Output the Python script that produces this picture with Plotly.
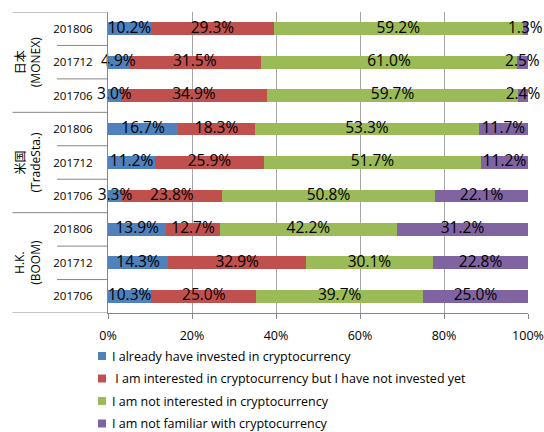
import plotly.graph_objects as go

# Survey rows, top to bottom
groups = ["日本<br>(MONEX)", "米国<br>(TradeSta.)", "H.K.<br>(BOOM)"]
periods = ["201806", "201712", "201706"]

series_names = [
    "I already have invested in cryptocurrency",
    " I am interested in cryptocurrency but I have not invested yet",
    "I am not interested in cryptocurrency",
    "I am not familiar with cryptocurrency",
]
colors = ["#4F81BD", "#C0504D", "#9BBB59", "#8064A2"]

invested = [10.2, 4.9, 3.0, 16.7, 11.2, 3.3, 13.9, 14.3, 10.3]
interested = [29.3, 31.5, 34.9, 18.3, 25.9, 23.8, 12.7, 32.9, 25.0]
not_interested = [59.2, 61.0, 59.7, 53.3, 51.7, 50.8, 42.2, 30.1, 39.7]
not_familiar = [1.3, 2.5, 2.4, 11.7, 11.2, 22.1, 31.2, 22.8, 25.0]

series = [invested, interested, not_interested, not_familiar]
row_labels = [p for _ in groups for p in periods]
rows = list(range(len(row_labels)))

FONT = "'Open Sans', 'Noto Sans CJK JP', sans-serif"
AXIS_GRAY = "#868686"

W, H = 544, 432
L, R, T, B = 108, 16, 12, 119
pw, ph = W - L - R, H - T - B


def paper_x(px):
    return (px - L) / pw


def paper_y(py):
    return (H - B - py) / ph


fig = go.Figure()

for name, vals, col in zip(series_names, series, colors):
    fig.add_trace(go.Bar(
        y=rows, x=vals, name=name, orientation="h",
        marker=dict(color=col, line=dict(width=0)),
        hoverinfo="x+name", showlegend=False,
    ))

# Value labels centred on each segment
lab_x, lab_y, lab_t = [], [], []
left = [0.0] * len(rows)
for vals in series:
    for r, v in enumerate(vals):
        lab_x.append(left[r] + v / 2)
        lab_y.append(r)
        lab_t.append(f"{v:.1f}%")
        left[r] += v
fig.add_trace(go.Scatter(
    x=lab_x, y=lab_y, text=lab_t, mode="text",
    textfont=dict(size=15.5, color="black", family=FONT),
    showlegend=False, hoverinfo="skip", cliponaxis=False,
))

# Category separators on the left side
shapes = []
for b in [0.5, 1.5, 3.5, 4.5, 6.5, 7.5]:
    shapes.append(dict(type="line", xref="paper", yref="y",
                       x0=paper_x(57), x1=0, y0=b, y1=b,
                       line=dict(color=AXIS_GRAY, width=1)))
for b in [-0.5, 2.5, 5.5, 8.5]:
    shapes.append(dict(type="line", xref="paper", yref="y",
                       x0=paper_x(12.5), x1=0, y0=b, y1=b,
                       line=dict(color=AXIS_GRAY, width=1)))

annotations = []
for g, name in enumerate(groups):
    annotations.append(dict(
        xref="paper", yref="y", x=paper_x(28), y=g * 3 + 1,
        text=name, textangle=-90, showarrow=False,
        font=dict(size=12, family=FONT, color="black"),
        xanchor="center", yanchor="middle",
    ))

# Legend: small colour squares with labels beneath the axis
for i, (name, col) in enumerate(zip(series_names, colors)):
    cy = 356 + 22.5 * i
    shapes.append(dict(type="rect", xref="paper", yref="paper",
                       x0=paper_x(98), x1=paper_x(106),
                       y0=paper_y(cy + 4), y1=paper_y(cy - 4),
                       fillcolor=col, line=dict(width=0)))
    annotations.append(dict(
        xref="paper", yref="paper", x=paper_x(110), y=paper_y(cy),
        text=name.replace(" ", "&nbsp;", 1) if name.startswith(" ") else name,
        showarrow=False, xanchor="left", yanchor="middle",
        font=dict(size=12.5, family=FONT, color="black"),
    ))

fig.update_layout(
    width=W, height=H,
    margin=dict(l=L, r=R, t=T, b=B, autoexpand=False),
    paper_bgcolor="white", plot_bgcolor="white",
    barmode="stack", bargap=0.62,
    font=dict(family=FONT, color="black"),
    shapes=shapes, annotations=annotations,
    showlegend=False,
)

fig.update_xaxes(
    range=[0, 100], tickvals=[0, 20, 40, 60, 80, 100],
    ticktext=["0%", "20%", "40%", "60%", "80%", "100%"],
    showgrid=True, gridcolor="#A6A6A6", gridwidth=1,
    showline=True, linecolor=AXIS_GRAY, linewidth=1,
    ticks="outside", ticklen=5, tickcolor=AXIS_GRAY,
    ticklabelstandoff=6,
    tickfont=dict(size=12.5, family=FONT, color="black"),
    zeroline=False, fixedrange=True,
)
fig.update_yaxes(
    range=[8.5, -0.5], tickvals=rows, ticktext=row_labels,
    showgrid=False, zeroline=False,
    showline=True, linecolor=AXIS_GRAY, linewidth=1,
    ticks="", ticklabelstandoff=12,
    tickfont=dict(size=11.5, family=FONT, color="black"),
    fixedrange=True,
)

fig.write_html("out.html")
